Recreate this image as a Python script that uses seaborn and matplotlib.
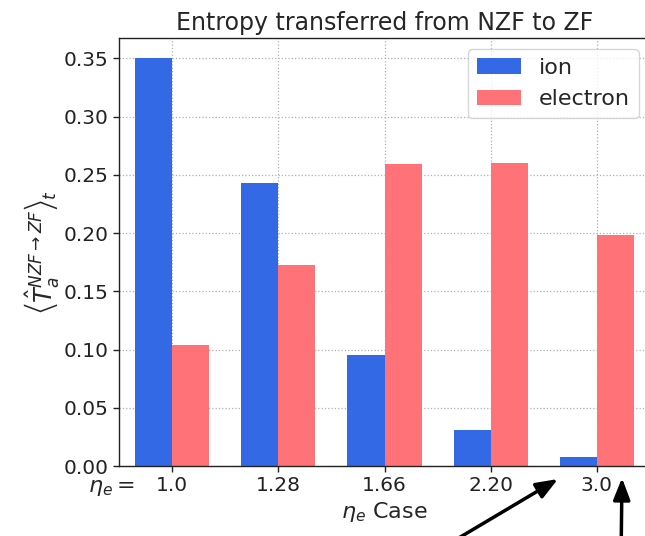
import matplotlib
matplotlib.use("Agg")
import matplotlib.pyplot as plt
import seaborn as sns
import pandas as pd

# Case labels and time-averaged entropy transfer for each species
cases = ["1.0", "1.28", "1.66", "2.20", "3.0"]
ion = [0.350, 0.243, 0.095, 0.031, 0.008]
electron = [0.104, 0.173, 0.259, 0.260, 0.198]
species = ["ion", "electron"]
colors = ["#3469e6", "#ff7378"]

df = pd.DataFrame({
    "case": cases * 2,
    "value": ion + electron,
    "species": [species[0]] * len(cases) + [species[1]] * len(cases),
})

sns.set_style("white")
plt.rcParams["font.family"] = ["DejaVu Sans"]
plt.rcParams["font.size"] = 14.5
plt.rcParams["mathtext.fontset"] = "dejavusans"

fig = plt.figure(figsize=(6.45, 5.36), dpi=100)
ax = fig.add_axes([119 / 645, 1 - 466 / 536, (650 - 119) / 645, (466 - 38) / 536])

sns.barplot(data=df, x="case", y="value", hue="species", order=cases,
            hue_order=species, palette=colors, width=0.7, gap=0,
            saturation=1, linewidth=0, ax=ax)

ax.set_xlim(-0.5, 4.5)
ax.set_ylim(0, 0.3675)
ax.set_yticks([0.0, 0.05, 0.10, 0.15, 0.20, 0.25, 0.30, 0.35])
ax.set_yticklabels([f"{v:.2f}" for v in ax.get_yticks()])
ax.set_axisbelow(True)
ax.grid(True, linestyle=":", color="#b0b0b0", linewidth=0.9)
for s in ax.spines.values():
    s.set_color("#222222")
    s.set_linewidth(1.0)
ax.tick_params(axis="both", which="both", direction="out", length=4,
               width=1, colors="#222222", labelcolor="#222222",
               bottom=True, left=True, labelsize=14.5)

ax.set_title("Entropy transferred from NZF to ZF", fontsize=17)
ax.set_xlabel(r"$\eta_e$ Case", fontsize=16, labelpad=3)
ax.set_ylabel(r"$\left\langle \hat{T}_a^{NZF \rightarrow ZF} \right\rangle_t$",
              fontsize=17.5, labelpad=2)

ax.text(-0.355, -0.052, r"$\eta_e =$", ha="right", va="center",
        fontsize=16, transform=ax.get_xaxis_transform())

leg = ax.legend(loc="upper right", fontsize=16, framealpha=0.8,
                handlelength=2.0, borderaxespad=0.5)
leg.set_title(None)

# arrows pointing up at the last case from below the figure
arrow = dict(arrowstyle="-|>,head_width=0.35,head_length=0.9",
             color="black", lw=2.5, shrinkA=0, shrinkB=0)
ax.annotate("", xy=(558, 57), xytext=(420, -25), xycoords="figure pixels",
            textcoords="figure pixels", arrowprops=arrow,
            annotation_clip=False)
ax.annotate("", xy=(622, 58), xytext=(621, -25), xycoords="figure pixels",
            textcoords="figure pixels", arrowprops=arrow,
            annotation_clip=False)

fig.savefig("out.png", dpi=100)
